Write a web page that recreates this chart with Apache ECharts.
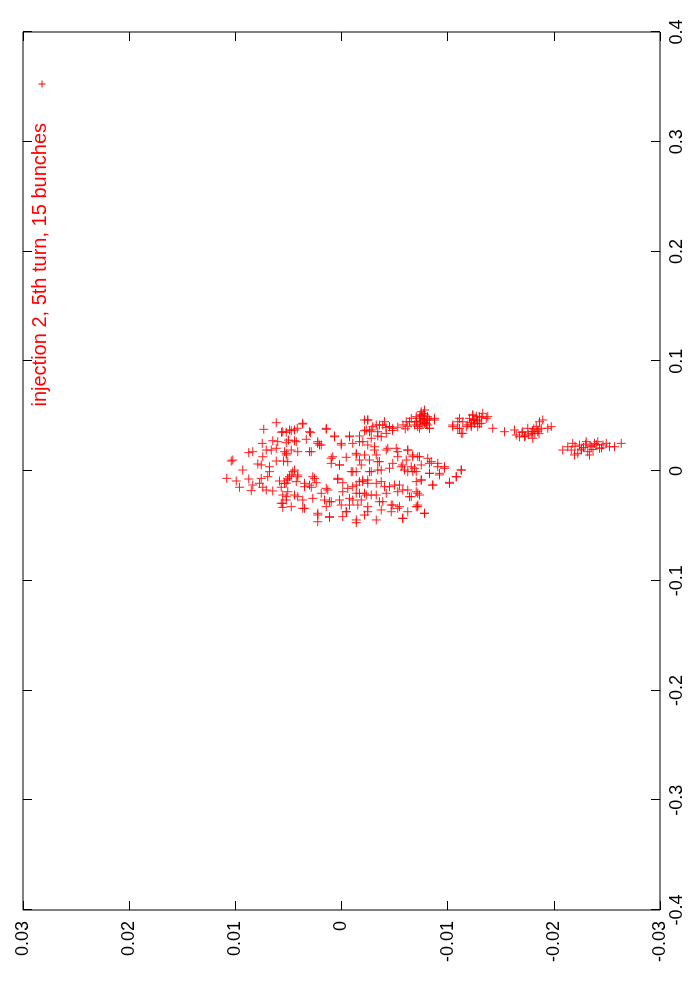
<!DOCTYPE html>
<html>
<head>
<meta charset="utf-8">
<script src="https://cdn.jsdelivr.net/npm/echarts@6/dist/echarts.min.js"></script>
<style>
html,body{margin:0;padding:0;background:#fff;width:700px;height:1000px;overflow:hidden;}
#c{position:absolute;left:0;top:0;width:1000px;height:700px;transform-origin:0 0;transform:translate(0px,1000px) rotate(-90deg);background:#fff;}
</style>
</head>
<body>
<div id="c"></div>
<script>
// Horizontal axis of the (unrotated) plot: -0.4 .. 0.4 ; vertical: -0.03 .. 0.03
const xTicks = [-0.4,-0.3,-0.2,-0.1,0,0.1,0.2,0.3,0.4];
const yTicks = [-0.03,-0.02,-0.01,0,0.01,0.02,0.03];
const seriesName = 'injection 2, 5th turn, 15 bunches';

const xCoreA = [0.0440,0.0380,0.0353,0.0252,0.0276,0.0267,0.0258,0.0176,0.0167,0.0191,0.0191,0.0207,0.0176,0.0130,0.0100,0.0091,0.0064,0.0055,0.0039,0.0091,0.0091,0.0146,0.0009,-0.0006,-0.0052,-0.0067,-0.0091,-0.0073,-0.0067,-0.0128,-0.0112,-0.0148,-0.0179,-0.0148,-0.0173,-0.0182,-0.0091,-0.0148,-0.0112,-0.0067,-0.0294,-0.0331,-0.0264,-0.0189];
const yCoreA = [0.00615,0.00732,0.00565,0.00747,0.00647,0.00600,0.00521,0.00836,0.00873,0.00709,0.00662,0.00615,0.00537,0.00741,0.01024,0.01039,0.00788,0.00756,0.00678,0.00615,0.00546,0.00521,0.00930,0.00678,0.00694,0.01080,0.00992,0.00873,0.00756,0.00836,0.00772,0.00961,0.00851,0.00741,0.00709,0.00647,0.00584,0.00568,0.00537,0.00506,0.00568,0.00553,0.00521,0.00506];

const xCoreB = [0.0428,0.0389,0.0367,0.0353,0.0380,0.0349,0.0319,0.0319,0.0282,0.0276,0.0289,0.0252,0.0237,0.0252,0.0176,0.0176,0.0191,0.0116,0.0125,0.0070,0.0055,0.0085,0.0009,-0.0036,-0.0036,-0.0082,-0.0097,-0.0067,-0.0107,-0.0076,-0.0006,-0.0107,-0.0143,-0.0148,-0.0173,-0.0158,-0.0189,-0.0234,-0.0234,-0.0249,-0.0264,-0.0280,-0.0264,-0.0325,-0.0340,-0.0325,-0.0310,-0.0401,-0.0422,-0.0416,-0.0371,-0.0462];
const yCoreB = [0.00365,0.00417,0.00474,0.00521,0.00144,0.00292,0.00066,-0.00075,0.00499,0.00443,0.00333,0.00223,0.00191,0.00003,0.00412,0.00301,0.00474,0.00097,-0.00044,0.00097,0.00019,0.00506,0.00443,0.00474,0.00412,0.00506,0.00427,0.00254,0.00238,0.00035,-0.00091,-0.00012,0.00349,0.00285,0.00129,-0.00059,-0.00012,0.00521,0.00412,0.00270,0.00160,0.00097,0.00019,0.00474,0.00365,0.00144,-0.00075,0.00223,0.00113,-0.00012,-0.00044,0.00223];

const xCoreC = [0.0465,0.0419,0.0419,0.0404,0.0374,0.0367,0.0343,0.0449,0.0419,0.0495,0.0319,0.0319,0.0252,0.0267,0.0221,0.0191,0.0176,0.0191,0.0161,0.0146,0.0146,0.0146,0.0100,0.0085,0.0070,0.0055,0.0039,-0.0006,-0.0006,0.0009,0.0025,0.0009,-0.0006,-0.0082,-0.0097,-0.0143,-0.0112,-0.0097,-0.0143,-0.0128,-0.0097,-0.0203,-0.0203,-0.0219,-0.0203,-0.0173,-0.0234,-0.0264,-0.0264,-0.0325,-0.0280,-0.0310,-0.0325,-0.0355,-0.0371,-0.0325,-0.0401,-0.0471,-0.0431,0.0400,0.0385,0.0420,0.0370,0.0395];
const yCoreC = [-0.00248,-0.00327,-0.00389,-0.00452,-0.00280,-0.00217,-0.00421,-0.00641,-0.00688,-0.00704,-0.00170,-0.00342,-0.00106,-0.00201,-0.00311,-0.00421,-0.00530,-0.00625,-0.00138,-0.00217,-0.00327,-0.00672,-0.00170,-0.00358,-0.00483,-0.00577,-0.00657,-0.00138,-0.00264,-0.00342,-0.00452,-0.00593,-0.00672,-0.00201,-0.00170,-0.00106,-0.00248,-0.00374,-0.00452,-0.00546,-0.00704,-0.00138,-0.00217,-0.00327,-0.00421,-0.00577,-0.00641,-0.00106,-0.00186,-0.00248,-0.00389,-0.00483,-0.00546,-0.00374,-0.00468,-0.00704,-0.00217,-0.00138,-0.00577,-0.00530,-0.00600,-0.00580,-0.00480,-0.00420];

const xCoreD = [0.0435,0.0374,0.0374,0.0358,0.0358,0.0389,0.0312,0.0312,0.0237,0.0267,0.0176,0.0267,0.0161,0.0237,0.0267,0.0465,0.0374,0.0130,0.0055,0.0146,0.0055,-0.0006,-0.0006,-0.0052,-0.0052,-0.0112,-0.0052,-0.0128,-0.0112,-0.0067,-0.0158,-0.0203,-0.0128,-0.0097,-0.0203,-0.0219,-0.0219,-0.0264,-0.0294,-0.0280,-0.0310,-0.0249,-0.0310,-0.0371,-0.0385,-0.0416,-0.0446,-0.0340,-0.0219];
const yCoreD = [0.00365,0.00443,0.00490,0.00553,0.00301,0.00144,0.00066,-0.00075,0.00207,0.00223,0.00285,0.00427,0.00521,0.00003,-0.00170,-0.00217,-0.00233,0.00082,0.00019,-0.00138,-0.00186,-0.00106,0.00459,0.00412,0.00490,0.00521,0.00270,0.00301,0.00349,0.00035,0.00144,0.00191,-0.00138,-0.00201,-0.00170,0.00553,0.00443,0.00365,0.00553,0.00113,0.00003,-0.00075,-0.00154,-0.00044,0.00223,0.00113,-0.00138,0.00349,-0.00233];

const xCoreE = [0.0465,0.0404,0.0419,0.0449,0.0404,0.0389,0.0358,0.0358,0.0312,0.0298,0.0237,0.0191,0.0207,0.0207,0.0191,0.0130,0.0130,0.0130,0.0100,0.0039,-0.0006,0.0025,0.0070,0.0039,0.0025,-0.0021,-0.0036,-0.0082,-0.0128,-0.0112,-0.0052,0.0009,0.0100,0.0085,0.0009,-0.0006,-0.0082,-0.0112,-0.0143,-0.0128,-0.0189,-0.0173,-0.0203,-0.0234,-0.0219,-0.0280,-0.0310,-0.0340,-0.0371,-0.0310,-0.0385,-0.0371,-0.0446,-0.0431];
const yCoreE = [-0.00248,-0.00295,-0.00358,-0.00405,-0.00452,-0.00483,-0.00264,-0.00342,-0.00374,-0.00280,-0.00248,-0.00311,-0.00436,-0.00515,-0.00625,-0.00530,-0.00672,-0.00735,-0.00609,-0.00562,-0.00625,-0.00688,-0.00829,-0.00907,-0.00970,-0.00829,-0.00923,-0.00751,-0.00860,-0.01017,-0.01080,-0.01128,-0.00264,-0.00342,-0.00374,-0.00280,-0.00248,-0.00327,-0.00405,-0.00499,-0.00530,-0.00625,-0.00719,-0.00657,-0.00280,-0.00358,-0.00468,-0.00530,-0.00625,-0.00719,-0.00782,-0.00248,-0.00327,-0.00577];

const xBunch1 = [0.0540,0.0510,0.0480,0.0465,0.0449,0.0435,0.0419,0.0480,0.0389,0.0404,0.0556,0.0500,0.0470,0.0455,0.0440,0.0495,0.0525,0.0420,0.0465,0.0430,0.0510,0.0480,0.0449,0.0510,0.0435,0.0480,0.0389,0.0404,0.0465,0.0389,0.0449];
const yBunch1 = [-0.00751,-0.00782,-0.00735,-0.00798,-0.00704,-0.00766,-0.00813,-0.00876,-0.00829,-0.00719,-0.00782,-0.00760,-0.00770,-0.00745,-0.00790,-0.00810,-0.00775,-0.00750,-0.00830,-0.00800,-0.00740,-0.00657,-0.00704,-0.00751,-0.00782,-0.00813,-0.00735,-0.00625,-0.00876,-0.00829,-0.00609];

const xEdge = [0.0130,0.0116,0.0085,0.0070,0.0039,-0.0021,-0.0021,0.0055,0.0009,-0.0052,-0.0103,-0.0128,-0.0082,-0.0006,-0.0219,-0.0325,-0.0385,-0.0189];
const yEdge = [-0.00719,-0.00813,-0.00845,-0.00907,-0.00970,-0.00923,-0.00829,-0.00751,-0.01128,-0.01080,-0.01017,-0.00860,-0.00751,-0.00704,-0.00735,-0.00719,-0.00782,-0.00704];

const xBunch2 = [0.0404,0.0389,0.0449,0.0404,0.0343,0.0480,0.0419,0.0510,0.0480,0.0510,0.0465,0.0495,0.0526,0.0480,0.0435,0.0435,0.0495,0.0404,0.0404,0.0389,0.0470,0.0455,0.0440,0.0500,0.0420,0.0485,0.0430,0.0460,0.0419,0.0449,0.0389,0.0343];
const yBunch2 = [-0.01048,-0.01096,-0.01143,-0.01175,-0.01143,-0.01206,-0.01222,-0.01237,-0.01112,-0.01237,-0.01269,-0.01300,-0.01331,-0.01363,-0.01253,-0.01316,-0.01378,-0.01284,-0.01222,-0.01425,-0.01250,-0.01280,-0.01220,-0.01270,-0.01190,-0.01320,-0.01300,-0.01240,-0.01048,-0.01096,-0.01112,-0.01128];

const xBunch3 = [0.0358,0.0374,0.0328,0.0358,0.0312,0.0389,0.0343,0.0298,0.0404,0.0358,0.0449,0.0465,0.0389,0.0389,0.0404,0.0312,0.0345,0.0360,0.0330,0.0375,0.0320,0.0350,0.0385,0.0340];
const yBunch3 = [-0.01535,-0.01630,-0.01646,-0.01708,-0.01724,-0.01755,-0.01787,-0.01802,-0.01834,-0.01849,-0.01865,-0.01896,-0.01881,-0.01943,-0.01975,-0.01677,-0.01820,-0.01800,-0.01760,-0.01850,-0.01730,-0.01700,-0.01810,-0.01860];

const xBunch4 = [0.0191,0.0221,0.0191,0.0252,0.0146,0.0237,0.0191,0.0267,0.0176,0.0146,0.0221,0.0252,0.0267,0.0207,0.0237,0.0252,0.0221,0.0221,0.0252,0.0161,0.0215,0.0230,0.0200,0.0240,0.0225,0.0210,0.0245,0.0195];
const yBunch4 = [-0.02085,-0.02132,-0.02164,-0.02179,-0.02195,-0.02242,-0.02258,-0.02305,-0.02320,-0.02336,-0.02352,-0.02383,-0.02414,-0.02430,-0.02462,-0.02494,-0.02525,-0.02572,-0.02635,-0.02226,-0.02280,-0.02340,-0.02260,-0.02400,-0.02200,-0.02450,-0.02300,-0.02370];

const xAll = [].concat(xCoreA, xCoreB, xCoreC, xCoreD, xCoreE, xBunch1, xEdge, xBunch2, xBunch3, xBunch4);
const yAll = [].concat(yCoreA, yCoreB, yCoreC, yCoreD, yCoreE, yBunch1, yEdge, yBunch2, yBunch3, yBunch4);
const points = xAll.map((v, i) => [v, yAll[i]]);

const FONT = 'Liberation Sans, Arial, Helvetica, sans-serif';
const RED = '#ff0000';
const PLUS = 'path://M0,4.45H10V5.55H0Z M4.45,0H5.55V10H4.45Z';
const fmt = (d) => (v) => { const r = Number(v.toFixed(d)); return String(r); };

const chart = echarts.init(document.getElementById('c'), null, {renderer: 'canvas'});
const tickCommon = {inside: true, length: 9, lineStyle: {color: '#000', width: 1}};
const noLine = {show: false, onZero: false};
chart.setOption({
  animation: false,
  backgroundColor: '#fff',
  grid: {left: 90, right: 32, top: 23, bottom: 40, show: true, borderColor: '#000', borderWidth: 1, backgroundColor: 'transparent', containLabel: false},
  xAxis: [
    {type: 'value', min: xTicks[0], max: xTicks[xTicks.length - 1], interval: 0.1, position: 'bottom',
     axisLine: noLine, axisTick: tickCommon, splitLine: {show: false},
     axisLabel: {margin: 8, fontSize: 18, color: '#000', fontFamily: FONT, formatter: fmt(1)}},
    {type: 'value', min: xTicks[0], max: xTicks[xTicks.length - 1], interval: 0.1, position: 'top',
     axisLine: noLine, axisTick: tickCommon, splitLine: {show: false}, axisLabel: {show: false}}
  ],
  yAxis: [
    {type: 'value', min: yTicks[0], max: yTicks[yTicks.length - 1], interval: 0.01, position: 'left',
     axisLine: noLine, axisTick: tickCommon, splitLine: {show: false},
     axisLabel: {margin: 11, fontSize: 18, color: '#000', fontFamily: FONT, formatter: fmt(2)}},
    {type: 'value', min: yTicks[0], max: yTicks[yTicks.length - 1], interval: 0.01, position: 'right',
     axisLine: noLine, axisTick: tickCommon, splitLine: {show: false}, axisLabel: {show: false}}
  ],
  graphic: [
    {type: 'text', right: 123, top: 30, style: {text: seriesName, fill: RED, font: '20px ' + FONT, textAlign: 'right'}},
    {type: 'line', shape: {x1: 912.5, y1: 42, x2: 919.5, y2: 42}, style: {stroke: RED, lineWidth: 1}},
    {type: 'line', shape: {x1: 916, y1: 38.5, x2: 916, y2: 45.5}, style: {stroke: RED, lineWidth: 1}}
  ],
  series: [{
    name: seriesName, type: 'scatter', xAxisIndex: 0, yAxisIndex: 0,
    symbol: PLUS, symbolSize: 9, data: points,
    itemStyle: {color: RED, opacity: 0.9}
  }]
});
</script>
</body>
</html>
